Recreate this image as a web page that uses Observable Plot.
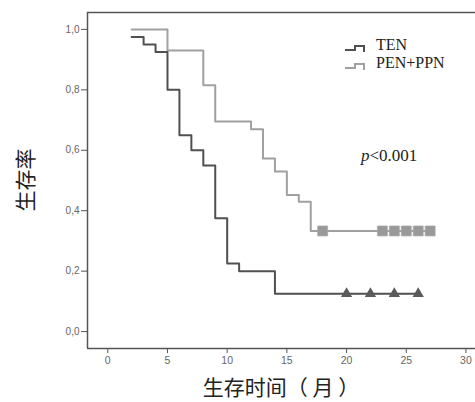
<!DOCTYPE html>
<html>
<head>
<meta charset="utf-8">
<script src="https://cdn.jsdelivr.net/npm/d3@7"></script>
<script src="https://cdn.jsdelivr.net/npm/@observablehq/plot@0.6"></script>
<style>
  html, body { margin: 0; padding: 0; background: #fff; }
  #chart { width: 475px; height: 402px; }
</style>
</head>
<body>
<div id="chart"></div>
<script>
// ---- data ----
const tenTime = [2, 3, 4, 5, 6, 7, 8, 9, 10, 11, 14, 26];
const tenSurv = [0.975, 0.95, 0.925, 0.80, 0.65, 0.60, 0.55, 0.375, 0.225, 0.20, 0.125, 0.125];
const tenCensorTime = [20, 22, 24, 26];
const tenCensorSurv = [0.125, 0.125, 0.125, 0.125];

const penTime = [2, 5, 8, 9, 12, 13, 14, 15, 16, 17, 27];
const penSurv = [1.0, 0.93, 0.815, 0.695, 0.67, 0.573, 0.53, 0.452, 0.43, 0.333, 0.333];
const penCensorTime = [18, 23, 24, 25, 26, 27];
const penCensorSurv = [0.333, 0.333, 0.333, 0.333, 0.333, 0.333];

const seriesNames = ["TEN", "PEN+PPN"];
const xTicks = [0, 5, 10, 15, 20, 25, 30];
const yTicks = [0, 0.2, 0.4, 0.6, 0.8, 1.0];
const xLabel = "生存时间（ 月 ）";
const yLabel = "生存率";
const pText = "<0.001";

// ---- build tables ----
const ten = tenTime.map((t, i) => ({t, s: tenSurv[i]}));
const pen = penTime.map((t, i) => ({t, s: penSurv[i]}));
const tenC = tenCensorTime.map((t, i) => ({t, s: tenCensorSurv[i]}));
const penC = penCensorTime.map((t, i) => ({t, s: penCensorSurv[i]}));

const xDomain = [-1.7, 30.8];
const yDomain = [-0.056, 1.056];
const axisColor = "#555";
const tenColor = "#505050";
const penColor = "#a0a0a0";

const plot = Plot.plot({
  width: 475,
  height: 402,
  marginLeft: 87,
  marginRight: 0,
  marginTop: 12,
  marginBottom: 54,
  style: {background: "#fff", fontFamily: "Liberation Sans, Arial, sans-serif"},
  x: {domain: xDomain, ticks: xTicks, label: null},
  y: {domain: yDomain, ticks: yTicks, label: null},
  marks: [
    Plot.ruleY([yDomain[1]], {stroke: axisColor, strokeWidth: 1.3}),
    Plot.ruleY([yDomain[0]], {stroke: axisColor, strokeWidth: 1.5}),
    Plot.ruleX([xDomain[0]], {stroke: axisColor, strokeWidth: 1.5}),
    Plot.axisY({ticks: yTicks, tickSize: 6, tickPadding: 2, stroke: axisColor,
      fill: "#666", fontSize: 10,
      tickFormat: d => d.toFixed(1).replace(".", ","), label: null}),
    Plot.axisX({ticks: xTicks, tickSize: 5, tickPadding: 3, stroke: axisColor,
      fill: "#666", fontSize: 10.5, label: null}),
    Plot.line(pen, {x: "t", y: "s", curve: "step-after", stroke: penColor, strokeWidth: 2}),
    Plot.line(ten, {x: "t", y: "s", curve: "step-after", stroke: tenColor, strokeWidth: 2}),
    Plot.dot(penC, {x: "t", y: "s", symbol: "square", r: 5.6, fill: "#999", stroke: "#aaa", strokeWidth: 0.8}),
    Plot.dot(tenC, {x: "t", y: "s", symbol: "triangle", r: 4.2, fill: "#5a5a5a", stroke: "none"})
  ]
});
document.getElementById("chart").appendChild(plot);

// ---- labels and legend (text kept as real SVG text) ----
const svg = d3.select(plot);
svg.append("text")
  .attr("x", 281).attr("y", 395)
  .attr("text-anchor", "middle")
  .style("font-family", "'Noto Sans CJK SC', sans-serif")
  .style("font-size", "21px").attr("fill", "#222")
  .text(xLabel);
svg.append("text")
  .attr("transform", "translate(33,180) rotate(-90)")
  .attr("text-anchor", "middle")
  .style("font-family", "'Noto Sans CJK SC', sans-serif")
  .style("font-size", "21px").attr("fill", "#222")
  .text(yLabel);

const legend = [
  {name: seriesNames[0], color: tenColor, base: 50},
  {name: seriesNames[1], color: penColor, base: 68}
];
legend.forEach(d => {
  svg.append("path")
    .attr("d", `M345,${d.base} H355 V${d.base - 4} H364 V${d.base + 2}`)
    .attr("fill", "none").attr("stroke", d.color).attr("stroke-width", 2);
  svg.append("text")
    .attr("x", 376).attr("y", d.base)
    .attr("text-anchor", "start")
    .style("font-family", "'Liberation Serif', 'Times New Roman', serif")
    .style("font-size", "16px").attr("fill", "#222")
    .text(d.name);
});
const pt = svg.append("text")
  .attr("x", 361).attr("y", 161)
  .attr("text-anchor", "start")
  .style("font-family", "'Liberation Serif', 'Times New Roman', serif")
  .style("font-size", "17px").attr("fill", "#222");
pt.append("tspan").style("font-style", "italic").text("p");
pt.append("tspan").text(pText);
</script>
</body>
</html>
